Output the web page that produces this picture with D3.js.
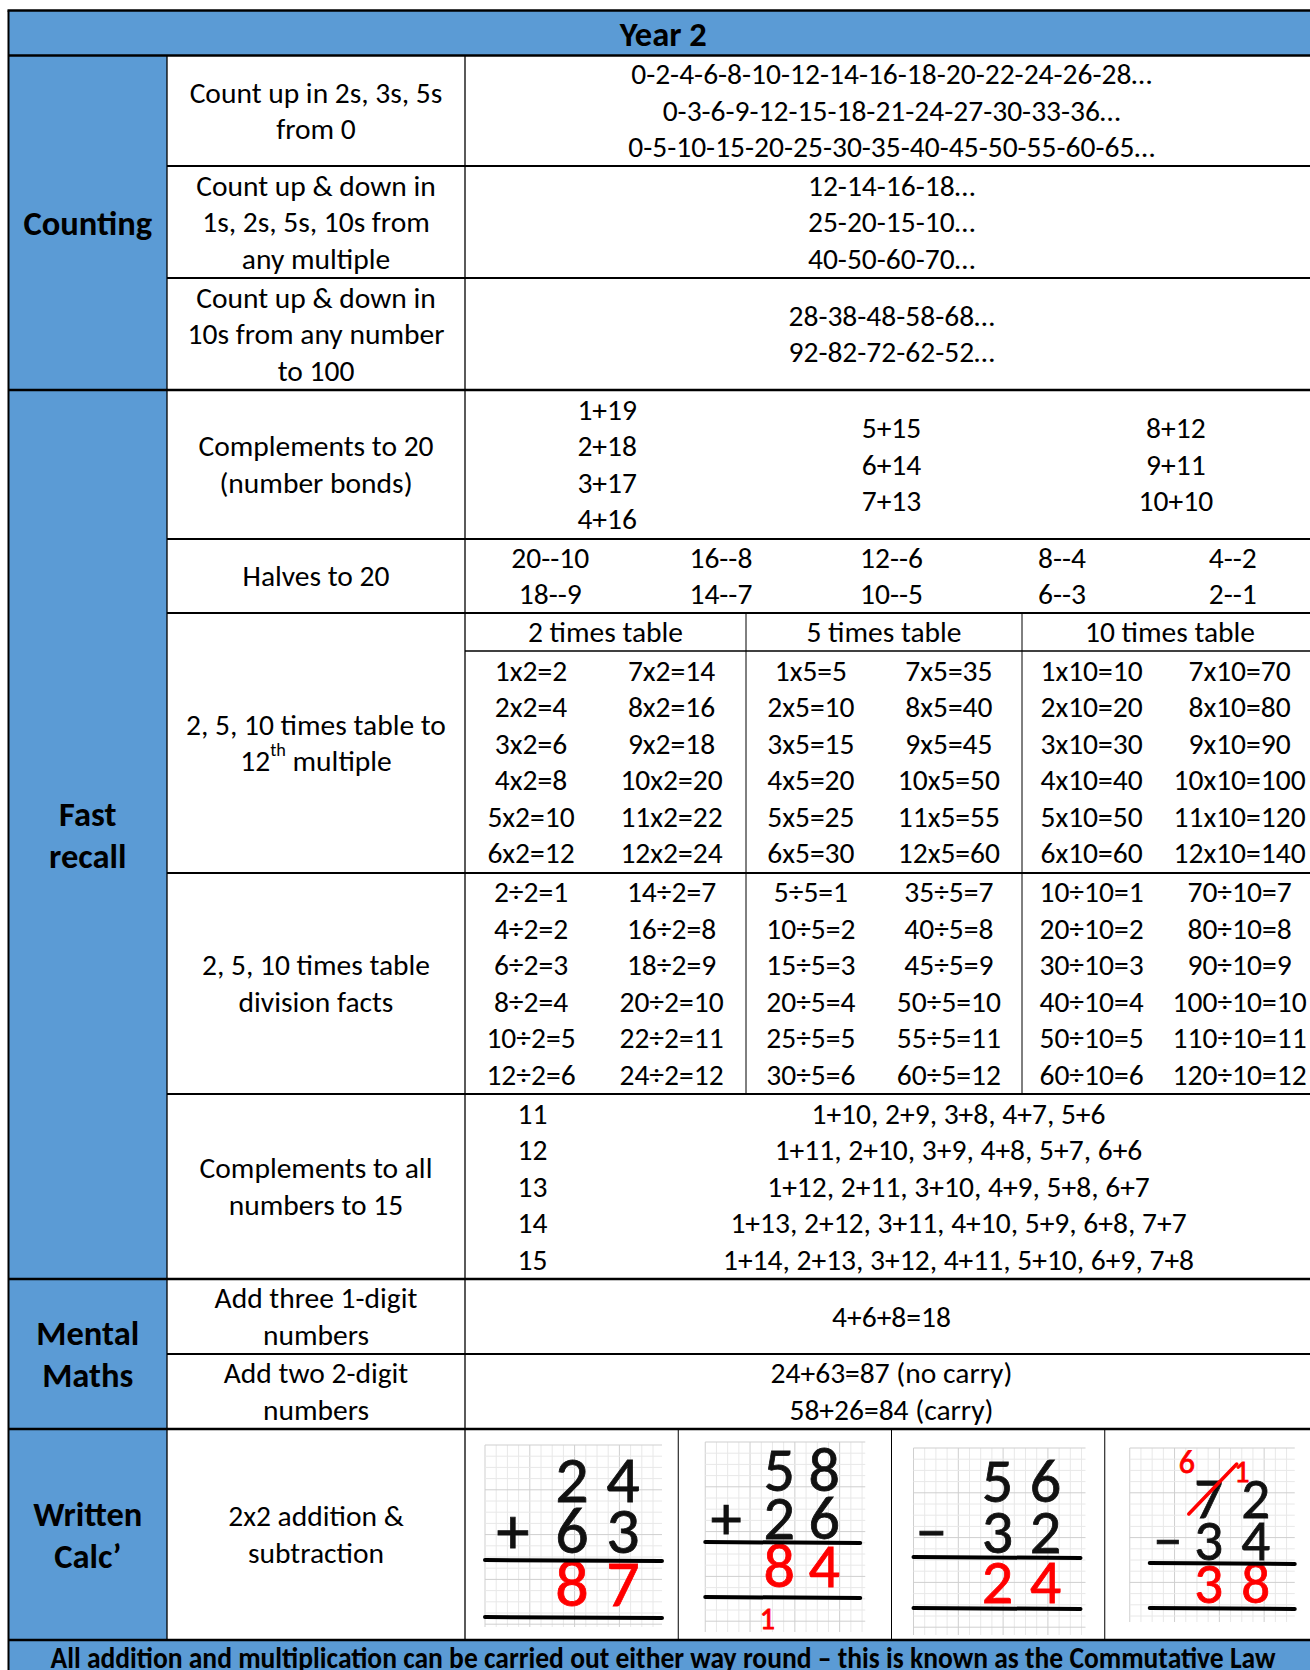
<!DOCTYPE html>
<html>
<head>
<meta charset="utf-8">
<script src="https://cdn.jsdelivr.net/npm/d3@7/dist/d3.min.js"></script>
<style>
  body{margin:0;background:#fff}
  svg{display:block}
  text{font-family:Carlito, Calibri, Lato, "Liberation Sans", sans-serif;fill:#000}
</style>
</head>
<body>
<script>
// ---- data ----
const title = "Year 2"
const sectionNames = [["Counting"], ["Fast", "recall"], ["Mental", "Maths"], ["Written", "Calc’"]]
const sectionRows = [[0, 2], [3, 7], [8, 9], [10, 10]]
const topicLabels = [
  ["Count up in 2s, 3s, 5s", "from 0"],
  ["Count up & down in", "1s, 2s, 5s, 10s from", "any multiple"],
  ["Count up & down in", "10s from any number", "to 100"],
  ["Complements to 20", "(number bonds)"],
  ["Halves to 20"],
  ["2, 5, 10 times table to", "12th multiple"],
  ["2, 5, 10 times table", "division facts"],
  ["Complements to all", "numbers to 15"],
  ["Add three 1-digit", "numbers"],
  ["Add two 2-digit", "numbers"],
  ["2x2 addition &", "subtraction"]
]
const countSequences = [
  ["0-2-4-6-8-10-12-14-16-18-20-22-24-26-28…", "0-3-6-9-12-15-18-21-24-27-30-33-36…", "0-5-10-15-20-25-30-35-40-45-50-55-60-65…"],
  ["12-14-16-18…", "25-20-15-10…", "40-50-60-70…"],
  ["28-38-48-58-68…", "92-82-72-62-52…"]
]
const bondCols = [["1+19", "2+18", "3+17", "4+16"], ["5+15", "6+14", "7+13"], ["8+12", "9+11", "10+10"]]
const halves = [["20--10", "18--9"], ["16--8", "14--7"], ["12--6", "10--5"], ["8--4", "6--3"], ["4--2", "2--1"]]
const tableNames = ["2 times table", "5 times table", "10 times table"]
const mult2 = ["1x2=2", "2x2=4", "3x2=6", "4x2=8", "5x2=10", "6x2=12", "7x2=14", "8x2=16", "9x2=18", "10x2=20", "11x2=22", "12x2=24"]
const mult5 = ["1x5=5", "2x5=10", "3x5=15", "4x5=20", "5x5=25", "6x5=30", "7x5=35", "8x5=40", "9x5=45", "10x5=50", "11x5=55", "12x5=60"]
const mult10 = ["1x10=10", "2x10=20", "3x10=30", "4x10=40", "5x10=50", "6x10=60", "7x10=70", "8x10=80", "9x10=90", "10x10=100", "11x10=120", "12x10=140"]
const div2 = ["2÷2=1", "4÷2=2", "6÷2=3", "8÷2=4", "10÷2=5", "12÷2=6", "14÷2=7", "16÷2=8", "18÷2=9", "20÷2=10", "22÷2=11", "24÷2=12"]
const div5 = ["5÷5=1", "10÷5=2", "15÷5=3", "20÷5=4", "25÷5=5", "30÷5=6", "35÷5=7", "40÷5=8", "45÷5=9", "50÷5=10", "55÷5=11", "60÷5=12"]
const div10 = ["10÷10=1", "20÷10=2", "30÷10=3", "40÷10=4", "50÷10=5", "60÷10=6", "70÷10=7", "80÷10=8", "90÷10=9", "100÷10=10", "110÷10=11", "120÷10=12"]
const complementTotals = ["11", "12", "13", "14", "15"]
const complementPairs = [
  "1+10, 2+9, 3+8, 4+7, 5+6",
  "1+11, 2+10, 3+9, 4+8, 5+7, 6+6",
  "1+12, 2+11, 3+10, 4+9, 5+8, 6+7",
  "1+13, 2+12, 3+11, 4+10, 5+9, 6+8, 7+7",
  "1+14, 2+13, 3+12, 4+11, 5+10, 6+9, 7+8"
]
const mentalSums = [["4+6+8=18"], ["24+63=87 (no carry)", "58+26=84 (carry)"]]
const writtenCalcs = [
  {top: ["2", "4"], op: "+", bottom: ["6", "3"], answer: ["8", "7"], carry: "", exchange: null},
  {top: ["5", "8"], op: "+", bottom: ["2", "6"], answer: ["8", "4"], carry: "1", exchange: null},
  {top: ["5", "6"], op: "−", bottom: ["3", "2"], answer: ["2", "4"], carry: "", exchange: null},
  {top: ["7", "2"], op: "−", bottom: ["3", "4"], answer: ["3", "8"], carry: "", exchange: ["6", "1"]}
]
const footer = "All addition and multiplication can be carried out either way round – this is known as the Commutative Law"

// ---- layout ----
const W = 1310, H = 1670
const BLUE = "#5B9BD5"
const X0 = 8.5, X1 = 167, X2 = 465, XR = 1318
const headTop = 10.5
const edges = [55.5, 166, 278, 390, 539, 613, 873, 1094, 1279, 1354, 1429, 1640]
const footBottom = 1720
const FS = 29.5, LH = 36.5, FS_B = 34.5, LH_B = 42
const tblEdges = [465, 746, 1022, 1318]
const tblHead = 651
// handwritten panels (offsets inside each written-calc cell)
const panels = [
  {op: 48, t: 107, u: 158, y: [73, 124, 177], ln: [131, 188], lx: [20, 197], gx: [20, 197], gy: [16, 198], fs: 66},
  {op: 48, t: 101, u: 146, y: [62, 110, 158], ln: [113, 168], lx: [27, 182], gx: [27, 187], gy: [13, 203], fs: 62},
  {op: 40, t: 106, u: 154, y: [73, 124, 174], ln: [128, 179], lx: [22, 189], gx: [22, 194], gy: [19, 206], fs: 62},
  {op: 63, t: 104, u: 151, y: [89, 131, 174], ln: [134, 179], lx: [45, 190], gx: [25, 190], gy: [19, 193], fs: 57}
]

const svg = d3.select("body").append("svg").attr("width", W).attr("height", H)

const rowTop = i => edges[i], rowBot = i => edges[i + 1], rowMid = i => (edges[i] + edges[i + 1]) / 2
const stackY = (n, cy, lh) => i => cy + (i - (n - 1) / 2) * lh

function textLines(g, arr, x, cy, lh, opts = {}) {
  const y = stackY(arr.length, cy, lh)
  return g.selectAll(null).data(arr).join("text")
    .attr("x", x).attr("y", (d, i) => y(i))
    .attr("text-anchor", opts.anchor || "middle")
    .attr("dominant-baseline", "central")
    .attr("font-size", opts.size || FS)
    .attr("font-weight", opts.weight || "normal")
    .each(function (d) {
      const m = d.match(/^(\d+)(th)(.*)$/)
      const t = d3.select(this)
      if (m) {
        t.append("tspan").text(m[1])
        t.append("tspan").attr("font-size", (opts.size || FS) * 0.62).attr("dy", -11).text(m[2])
        t.append("tspan").attr("dy", 11).text(m[3])
      } else t.text(d)
    })
}

// backgrounds
const bg = svg.append("g")
bg.append("rect").attr("x", X0).attr("y", headTop).attr("width", XR - X0).attr("height", edges[0] - headTop).attr("fill", BLUE)
bg.append("rect").attr("x", X0).attr("y", edges[0]).attr("width", X1 - X0).attr("height", edges[11] - edges[0]).attr("fill", BLUE)
bg.append("rect").attr("x", X0).attr("y", edges[11]).attr("width", XR - X0).attr("height", footBottom - edges[11]).attr("fill", BLUE)

// handwritten grids
const written = svg.append("g")
const writX = d3.scaleBand().domain(d3.range(writtenCalcs.length)).range([X2, XR])
writtenCalcs.forEach((c, k) => {
  const p = panels[k], bx = writX(k), by = edges[10]
  const g = written.append("g").attr("transform", `translate(${bx},${by})`)
  const gx = d3.scaleLinear().domain([0, 1]).range(p.gx)
  const gy = d3.scaleLinear().domain([0, 1]).range(p.gy)
  const step = 11.2
  const vx = d3.range(p.gx[0], p.gx[1] + 0.1, step)
  const vy = d3.range(p.gy[0], p.gy[1] + 0.1, step)
  g.selectAll(".gv").data(vx).join("line").attr("x1", d => d).attr("x2", d => d).attr("y1", gy(0)).attr("y2", gy(1))
    .attr("stroke", (d, i) => i % 4 === 0 ? "#cfcfcf" : "#e8e8e8").attr("stroke-width", 1)
  g.selectAll(".gh").data(vy).join("line").attr("y1", d => d).attr("y2", d => d).attr("x1", gx(0)).attr("x2", gx(1))
    .attr("stroke", (d, i) => i % 4 === 0 ? "#cfcfcf" : "#e8e8e8").attr("stroke-width", 1)

  const hw = (s, x, y, col, fs) => g.append("text").attr("x", x).attr("y", y).attr("text-anchor", "middle")
    .attr("font-family", "Lato, 'DejaVu Sans', sans-serif").attr("font-weight", 300)
    .attr("font-size", fs).style("fill", col).style("stroke", col).style("stroke-width", 0.8).text(s)
  hw(c.top[0], p.t, p.y[0], "#111", p.fs); hw(c.top[1], p.u, p.y[0], "#111", p.fs)
  hw(c.op, p.op, p.y[1], "#111", p.fs)
  hw(c.bottom[0], p.t, p.y[1], "#111", p.fs); hw(c.bottom[1], p.u, p.y[1], "#111", p.fs)
  hw(c.answer[0], p.t, p.y[2], "#f00", p.fs); hw(c.answer[1], p.u, p.y[2], "#f00", p.fs)
  p.ln.forEach(ly => g.append("line").attr("x1", p.lx[0]).attr("x2", p.lx[1]).attr("y1", ly).attr("y2", ly + 1)
    .attr("stroke", "#000").attr("stroke-width", 4).attr("stroke-linecap", "round"))
  if (c.carry) hw(c.carry, p.t - 12, p.ln[1] + 32, "#f00", 30)
  if (c.exchange) {
    hw(c.exchange[0], p.t - 22, p.y[0] - 45, "#f00", 32)
    hw(c.exchange[1], p.t + 33, p.y[0] - 36, "#f00", 30)
    g.append("line").attr("x1", p.t - 20).attr("y1", p.y[0] - 4).attr("x2", p.t + 28).attr("y2", p.y[0] - 54)
      .attr("stroke", "#f00").attr("stroke-width", 3.5).attr("stroke-linecap", "round")
  }
})

// text
const txt = svg.append("g")
textLines(txt, [title], (X0 + XR) / 2, (headTop + edges[0]) / 2 + 1, LH_B, {size: FS_B, weight: "bold"})
sectionNames.forEach((s, k) => {
  const [a, b] = sectionRows[k]
  textLines(txt, s, (X0 + X1) / 2, (edges[a] + edges[b + 1]) / 2, LH_B, {size: FS_B, weight: "bold"})
})
topicLabels.forEach((l, i) => textLines(txt, l, (X1 + X2) / 2, rowMid(i), LH))

const valMid = (X2 + XR) / 2
countSequences.forEach((s, i) => textLines(txt, s, valMid, rowMid(i), LH))

const bondX = d3.scaleBand().domain(d3.range(bondCols.length)).range([X2, XR])
bondCols.forEach((c, k) => textLines(txt, c, bondX(k) + bondX.bandwidth() / 2, rowMid(3), LH))

const halfX = d3.scaleBand().domain(d3.range(halves.length)).range([X2, XR])
halves.forEach((c, k) => textLines(txt, c, halfX(k) + halfX.bandwidth() / 2, rowMid(4), LH))

tableNames.forEach((n, k) => textLines(txt, [n], (tblEdges[k] + tblEdges[k + 1]) / 2, (rowTop(5) + tblHead) / 2, LH))
const inner = d3.scaleLinear().domain([0, 1]).range([0.235, 0.735])
function factsBlock(lists, cy) {
  lists.forEach((facts, k) => {
    const w = tblEdges[k + 1] - tblEdges[k]
    ;[facts.slice(0, 6), facts.slice(6)].forEach((col, j) =>
      textLines(txt, col, tblEdges[k] + inner(j) * w, cy, LH))
  })
}
factsBlock([mult2, mult5, mult10], (tblHead + rowBot(5)) / 2)
factsBlock([div2, div5, div10], rowMid(6))

textLines(txt, complementTotals, 532.5, rowMid(7), LH)
textLines(txt, complementPairs, 958.5, rowMid(7), LH)

mentalSums.forEach((s, i) => textLines(txt, s, valMid, rowMid(8 + i), LH))

textLines(txt, [footer], 663, edges[11] + 18, LH, {weight: "bold"})
  .attr("textLength", 1225).attr("lengthAdjust", "spacingAndGlyphs")

// rules
const rules = svg.append("g").attr("stroke", "#000")
const hl = (y, xa, xb, w) => rules.append("line").attr("x1", xa).attr("x2", xb).attr("y1", y).attr("y2", y).attr("stroke-width", w)
const vl = (x, ya, yb, w) => rules.append("line").attr("x1", x).attr("x2", x).attr("y1", ya).attr("y2", yb).attr("stroke-width", w)
hl(headTop, X0 - 1, XR, 2.5)
;[0, 3, 8, 10, 11].forEach(i => hl(edges[i], X0, XR, 2.5))
;[1, 2, 4, 5, 6, 7, 9].forEach(i => hl(edges[i], X1, XR, 2))
hl(tblHead, X2, XR, 1.3)
vl(X0, headTop, H, 2)
vl(X1, edges[0], edges[11], 1.3)
vl(X2, edges[0], edges[11], 1.3)
tblEdges.slice(1, 3).forEach(x => vl(x, rowTop(5), rowBot(6), 1))
d3.range(1, writtenCalcs.length).forEach(k => vl(writX(k), edges[10], edges[11], 1))
</script>
</body>
</html>
